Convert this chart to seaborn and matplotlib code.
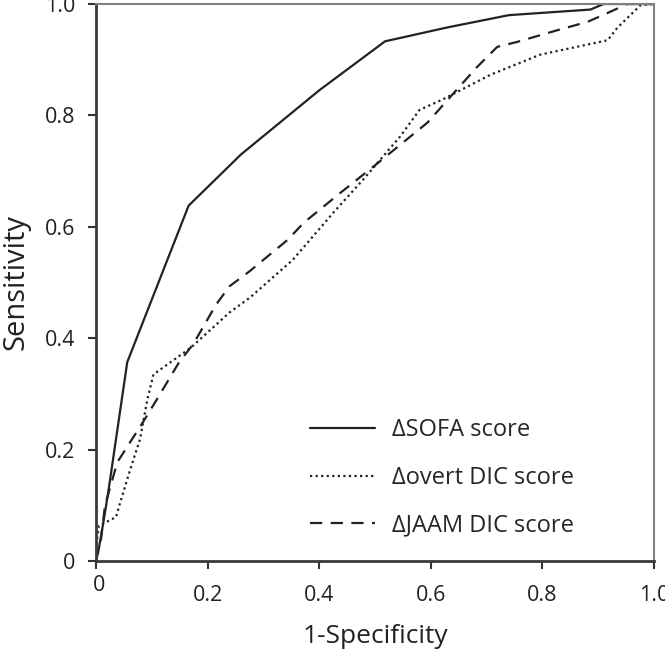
import numpy as np
import pandas as pd
import matplotlib
matplotlib.use("Agg")
import matplotlib.pyplot as plt
import seaborn as sns

# ROC points (1-specificity, sensitivity)
sofa_fpr = [0, 0.004, 0.015, 0.022, 0.056, 0.166, 0.26, 0.40, 0.518, 0.63, 0.74, 0.886, 0.91, 1.0]
sofa_tpr = [0, 0.016, 0.08, 0.124, 0.357, 0.638, 0.73, 0.845, 0.933, 0.958, 0.98, 0.99, 1.0, 1.0]

overt_fpr = [0, 0.002, 0.005, 0.036, 0.041, 0.06, 0.079, 0.092, 0.103, 0.17, 0.239, 0.276,
             0.353, 0.425, 0.479, 0.545, 0.58, 0.62, 0.707, 0.796, 0.917, 0.934, 0.976, 1.0]
overt_tpr = [0, 0.04, 0.063, 0.079, 0.097, 0.16, 0.219, 0.29, 0.335, 0.383, 0.446, 0.473,
             0.541, 0.625, 0.685, 0.762, 0.81, 0.828, 0.873, 0.909, 0.935, 0.957, 0.998, 1.0]

jaam_fpr = [0, 0.004, 0.009, 0.016, 0.038, 0.061, 0.084, 0.109, 0.149, 0.174, 0.215, 0.239, 0.275,
            0.344, 0.372, 0.438, 0.497, 0.594, 0.641, 0.683, 0.719, 0.755, 0.827, 0.881, 0.917, 0.952, 1.0]
jaam_tpr = [0, 0.03, 0.039, 0.099, 0.177, 0.213, 0.249, 0.29, 0.357, 0.389, 0.46, 0.493, 0.52,
            0.577, 0.607, 0.661, 0.708, 0.787, 0.84, 0.887, 0.923, 0.932, 0.953, 0.968, 0.984, 1.0, 1.0]

labels = ["\u0394SOFA score", "\u0394overt DIC score", "\u0394JAAM DIC score"]
ticks = [0, 0.2, 0.4, 0.6, 0.8, 1.0]
tick_labels = ["0", "0.2", "0.4", "0.6", "0.8", "1.0"]

sns.set_theme(style="white")
plt.rcParams["font.family"] = ["Open Sans", "DejaVu Sans"]

fig = plt.figure(figsize=(6.65, 6.56), dpi=100)
ax = fig.add_axes([96 / 665, 95 / 656, 558 / 665, 557 / 656])

lc = "#222222"
styles = ["-", (0, (1, 1.5)), (0, (5.5, 3.8))]
series = [(sofa_fpr, sofa_tpr), (overt_fpr, overt_tpr), (jaam_fpr, jaam_tpr)]
for (fx, ty), lab, ls in zip(series, labels, styles):
    sns.lineplot(x=fx, y=ty, ax=ax, color=lc, linestyle=ls, lw=1.6,
                 sort=False, estimator=None, label=lab)

ax.set_xlim(0, 1)
ax.set_ylim(0, 1)
ax.set_xticks(ticks)
ax.set_xticklabels([""] + tick_labels[1:])
ax.set_yticks(ticks)
ax.set_yticklabels(tick_labels)
# the "0" under the x axis sits higher than the other labels
ax.annotate("0", xy=(0, 0), xytext=(2, -17.5), textcoords="offset points",
            ha="center", va="center", fontsize=15.5, color="#222222")

ax.tick_params(axis="both", direction="out", length=6, width=1.5, color="#333333",
               labelsize=15.5, labelcolor="#222222", pad=9, bottom=True, left=True)
ax.tick_params(axis="x", pad=11)

for s in ["left", "bottom"]:
    ax.spines[s].set_color("#3a3a3a")
    ax.spines[s].set_linewidth(2)
for s in ["top", "right"]:
    ax.spines[s].set_color("#808080")
    ax.spines[s].set_linewidth(1.5)

ax.set_xlabel("1-Specificity", fontsize=19, color="#222222", labelpad=13)
ax.set_ylabel("Sensitivity", fontsize=21, color="#222222", labelpad=10)

ax.legend(loc="upper left", bbox_to_anchor=(301 / 665, 1 - 409 / 656),
          bbox_transform=fig.transFigure, frameon=False, fontsize=17,
          handlelength=2.75, handletextpad=0.72, labelspacing=1.0, borderaxespad=0)

fig.savefig("out.png", dpi=100)
